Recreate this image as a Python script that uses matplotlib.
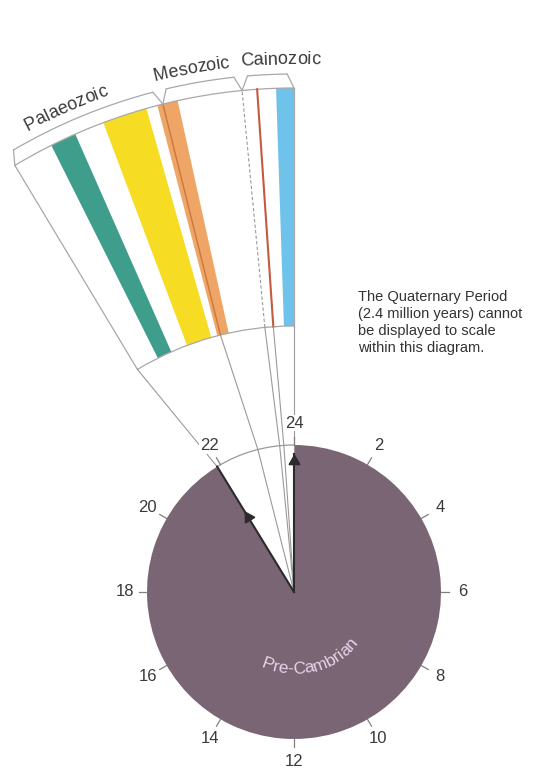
import numpy as np
import matplotlib
matplotlib.use('Agg')
import matplotlib.pyplot as plt
from matplotlib.patches import Wedge, Arc
from matplotlib.textpath import TextToPath
from matplotlib.font_manager import FontProperties

# angles are degrees to the left of the 24 o'clock line
era_names = ['Palaeozoic', 'Mesozoic', 'Cainozoic']
era_bounds = [31.0, 14.0, 5.5, 0.0]
era_label_angle = [23.6, 10.4, 1.4]

band_lo = [23.8, 15.8, 12.4, 0.0]
band_hi = [26.6, 20.6, 14.6, 1.9]
band_colors = ['#3f9e8b', '#f7dc24', '#efa566', '#6fc3ea']
red_line_angle = 3.9

hours = [24, 2, 4, 6, 8, 10, 12, 14, 16, 18, 20, 22]
gap_angle = 31.5  # white wedge of the clock
note = ('The Quaternary Period\n(2.4 million years) cannot\n'
        'be displayed to scale\nwithin this diagram.')

W, H = 546, 776
CLOCK, R_CLOCK = (294, 184), 147
FAN, R_IN, R_OUT, R_BR, R_LAB = (294, 146), 304, 542, 556, 566
GRAY = '#a8a8a8'
FONT = 'Liberation Sans'
t2p = TextToPath()


def pt(c, r, a):
    """point at radius r, a degrees left of vertical"""
    return c[0] - r * np.sin(np.radians(a)), c[1] + r * np.cos(np.radians(a))


def seg(p, q, **kw):
    ax.plot([p[0], q[0]], [p[1], q[1]], **kw)


def text_width(s, fp):
    if not s:
        return 0.0
    return t2p.get_text_width_height_descent(s, fp, ismath=False)[0] * 100 / 72


def arc_text(s, c, r, a_mid, size, color, top=True):
    fp = FontProperties(family=FONT, size=size)
    total = text_width(s, fp)
    for i, ch in enumerate(s):
        mid = (text_width(s[:i], fp) + text_width(s[:i + 1], fp)) / 2
        d = np.degrees((mid - total / 2) / r)
        if top:
            a = a_mid - d
            x, y = pt(c, r, a)
            rot = a
        else:
            phi = a_mid + d
            x = c[0] + r * np.sin(np.radians(phi))
            y = c[1] - r * np.cos(np.radians(phi))
            rot = phi
        ax.text(x, y, ch, rotation=rot, rotation_mode='anchor', ha='center',
                va='baseline', fontproperties=fp, color=color)


fig = plt.figure(figsize=(W / 100, H / 100), dpi=100)
ax = fig.add_axes([0, 0, 1, 1])
ax.set_xlim(0, W)
ax.set_ylim(0, H)
ax.axis('off')

# fan with coloured bands
for lo, hi, col in zip(band_lo, band_hi, band_colors):
    ax.add_patch(Wedge(FAN, R_OUT, 90 + lo, 90 + hi, width=R_OUT - R_IN,
                       facecolor=col, edgecolor='none'))
seg(pt(FAN, R_IN, red_line_angle), pt(FAN, R_OUT, red_line_angle), color='#c45a3e', lw=1.5)
seg(pt(FAN, R_IN, era_bounds[1]), pt(FAN, R_OUT, era_bounds[1]), color='#c9773f', lw=1.0)
seg(pt(FAN, R_IN, era_bounds[2]), pt(FAN, R_OUT, era_bounds[2]), color='#999999', lw=0.8,
    dashes=(3, 2))
for r in (R_IN, R_OUT):
    ax.add_patch(Arc(FAN, 2 * r, 2 * r, theta1=90, theta2=90 + era_bounds[0], color=GRAY, lw=0.9))
for a in (era_bounds[0], era_bounds[-1]):
    seg(pt(FAN, R_IN, a), pt(FAN, R_OUT, a), color=GRAY, lw=0.9)

# era brackets and labels
for name, hi, lo, am in zip(era_names, era_bounds[:-1], era_bounds[1:], era_label_angle):
    ax.add_patch(Arc(FAN, 2 * R_BR, 2 * R_BR, theta1=90 + lo + 0.7, theta2=90 + hi - 0.7,
                     color=GRAY, lw=0.9))
    seg(pt(FAN, R_BR, hi - 0.7), pt(FAN, R_OUT, hi), color=GRAY, lw=0.9)
    seg(pt(FAN, R_BR, lo + 0.7), pt(FAN, R_OUT, lo), color=GRAY, lw=0.9)
    arc_text(name, FAN, R_LAB, am, 13, '#3a3a3a', top=True)

# connectors from the fan down to the clock
for a in [era_bounds[0], era_bounds[1], era_bounds[2], red_line_angle, 0.0]:
    ac = a * gap_angle / era_bounds[0]
    p_arc = pt(CLOCK, R_CLOCK, ac)
    seg(pt(FAN, R_IN, a), p_arc, color='#9a9a9a', lw=0.8)
    seg(p_arc, CLOCK, color='#9a9a9a', lw=0.8)

# clock face
ax.add_patch(Wedge(CLOCK, R_CLOCK, 90 + gap_angle, 450, facecolor='#7a6574', edgecolor='none'))
ax.add_patch(Arc(CLOCK, 2 * R_CLOCK, 2 * R_CLOCK, theta1=90, theta2=90 + gap_angle,
                 color='#999999', lw=0.9))
for h in hours:
    a = -h * 15
    seg(pt(CLOCK, R_CLOCK, a), pt(CLOCK, R_CLOCK + 8, a), color='#808080', lw=0.9)
    x, y = pt(CLOCK, R_CLOCK + 22, a)
    ax.text(x, y, str(h), ha='center', va='center', family=FONT, fontsize=12, color='#3a3a3a',
            bbox=dict(facecolor='white', edgecolor='none', pad=0.5), zorder=5)

# hands
seg(CLOCK, pt(CLOCK, 138, 0), color='#2b2b2b', lw=1.5)
x, y = pt(CLOCK, 131, 0)
ax.plot(x, y, marker=(3, 0, 0), ms=9, color='#2b2b2b')
seg(CLOCK, pt(CLOCK, R_CLOCK, gap_angle), color='#2b2b2b', lw=1.5)
x, y = pt(CLOCK, 88, gap_angle)
ax.plot(x, y, marker=(3, 0, gap_angle), ms=9, color='#2b2b2b')

arc_text('Pre-Cambrian', CLOCK, 82, 14, 12.5, '#e8d2ea', top=False)

ax.text(358, 486, note, ha='left', va='top', family=FONT, fontsize=10.5,
        color='#333333', linespacing=1.28)

fig.savefig('out.png', dpi=100, facecolor='white')
